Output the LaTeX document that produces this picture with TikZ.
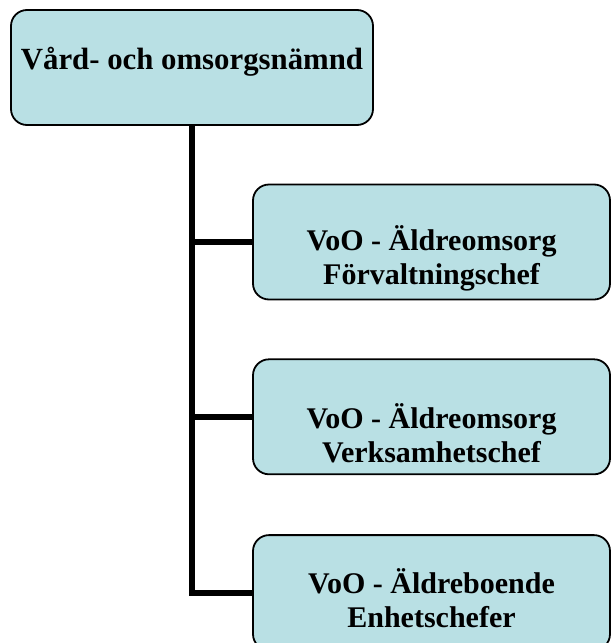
\documentclass[tikz,border=0pt]{standalone}
\usepackage{fontspec}
\setmainfont{Liberation Serif}
\usetikzlibrary{positioning}

\definecolor{boxfill}{HTML}{B9E0E4}

\begin{document}
\begin{tikzpicture}[
  x=1pt, y=-1pt,
  font=\bfseries\fontsize{30}{34}\selectfont,
  unit/.style={draw=black, fill=boxfill, rectangle, rounded corners=16pt,
               line width=1.8pt, minimum width=357pt, minimum height=115pt,
               align=center, inner sep=0pt},
  lowered/.style={text width=357pt, align=flush center,
                  execute at begin node={\rule{0pt}{#1}}},
  lowered/.default=58pt,
  link/.style={line width=6pt, line join=miter},
]
  \clip (0,0) rectangle (611,643);
  \node[unit, minimum width=362pt, text depth=18pt,
        font=\bfseries\fontsize{30.8}{34}\selectfont] (board) at (192,67.5) {Vård- och omsorgsnämnd};
  \node[unit, lowered] (chief) at (431.5,242) {VoO - Äldreomsorg\\Förvaltningschef};
  \node[unit, lowered, below=58pt of chief] (ops) {VoO - Äldreomsorg\\Verksamhetschef};
  \node[unit, lowered=36pt, below=59pt of ops] (units) {VoO - Äldreboende\\Enhetschefer};

  \draw[link] (board.south) |- (units.west);
  \draw[link] (chief.west) -- (chief.west -| board.south);
  \draw[link] (ops.west) -- (ops.west -| board.south);
\end{tikzpicture}
\end{document}
